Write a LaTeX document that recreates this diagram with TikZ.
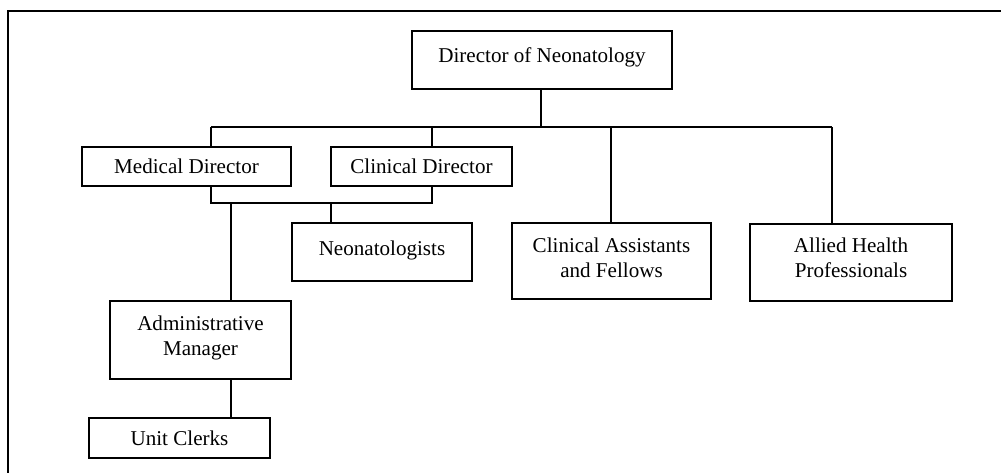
\documentclass[tikz,border=0pt]{standalone}
\usepackage{fontspec}
\setmainfont{Liberation Serif}
\usepackage{tikz}

\newcommand{\twoline}[2]{\begin{tabular}{@{}c@{}}#1\\#2\end{tabular}}

\begin{document}
\begin{tikzpicture}[x=0.02cm, y=-0.02cm, every node/.style={font=\fontsize{12}{14.2}\selectfont},
    box/.style={draw, line width=0.8pt, inner sep=0pt},
    link/.style={line width=0.7pt}]
                \useasboundingbox (0,0) rectangle (1001,473);
                \draw[line width=0.6pt] (1001,11) -- (8,11) -- (8,473);

                \node[box, minimum width=5.2cm, text height=0.64cm, text depth=0.52cm] (dir) at (542,60) {Director of Neonatology};
                \node[box, minimum width=4.18cm, minimum height=0.78cm] (med) at (186.5,166.5) {Medical Director};
                \node[box, minimum width=3.62cm, minimum height=0.78cm] (clin) at (421.5,166.5) {Clinical Director};
                \node[box, minimum width=3.6cm, text height=0.64cm, text depth=0.52cm] (neo) at (382,252) {Neonatologists};
                \node[box, minimum width=3.98cm, text height=0.84cm, text depth=0.68cm] (asst) at (611.5,261) {\twoline{Clinical Assistants}{and Fellows}};
                \node[box, minimum width=4.04cm, text height=0.82cm, text depth=0.72cm] (ahp) at (851,262.5) {\twoline{Allied Health}{Professionals}};
                \node[box, minimum width=3.62cm, text height=0.846cm, text depth=0.714cm] (adm) at (200.5,340) {\twoline{Administrative}{Manager}};
                \node[box, minimum width=3.62cm, minimum height=0.8cm] (clerk) at (179.5,438) {Unit Clerks};

                \coordinate (bus) at (541,127);
                \coordinate (busL) at (211,127);
                \coordinate (busR) at (832,127);
                \coordinate (lowL) at (211,203);
                \coordinate (lowR) at (432,203);

                \draw[link] (bus |- dir.south) -- (bus);
                \draw[link] (busL) -- (busR);
                \draw[link] (busL) -- (busL |- med.north);
                \draw[link] (432,127) -- (432,127 |- clin.north);
                \draw[link] (611,127) -- (611,127 |- asst.north);
                \draw[link] (busR) -- (busR |- ahp.north);

                \draw[link] (lowL |- med.south) -- (lowL) -- (lowR) -- (lowR |- clin.south);
                \draw[link] (331,203) -- (331,203 |- neo.north);
                \draw[link] (231,203) -- (231,203 |- adm.north);
                \draw[link] (231,203 |- adm.south) -- (231,203 |- clerk.north);
            \end{tikzpicture}
\end{document}
